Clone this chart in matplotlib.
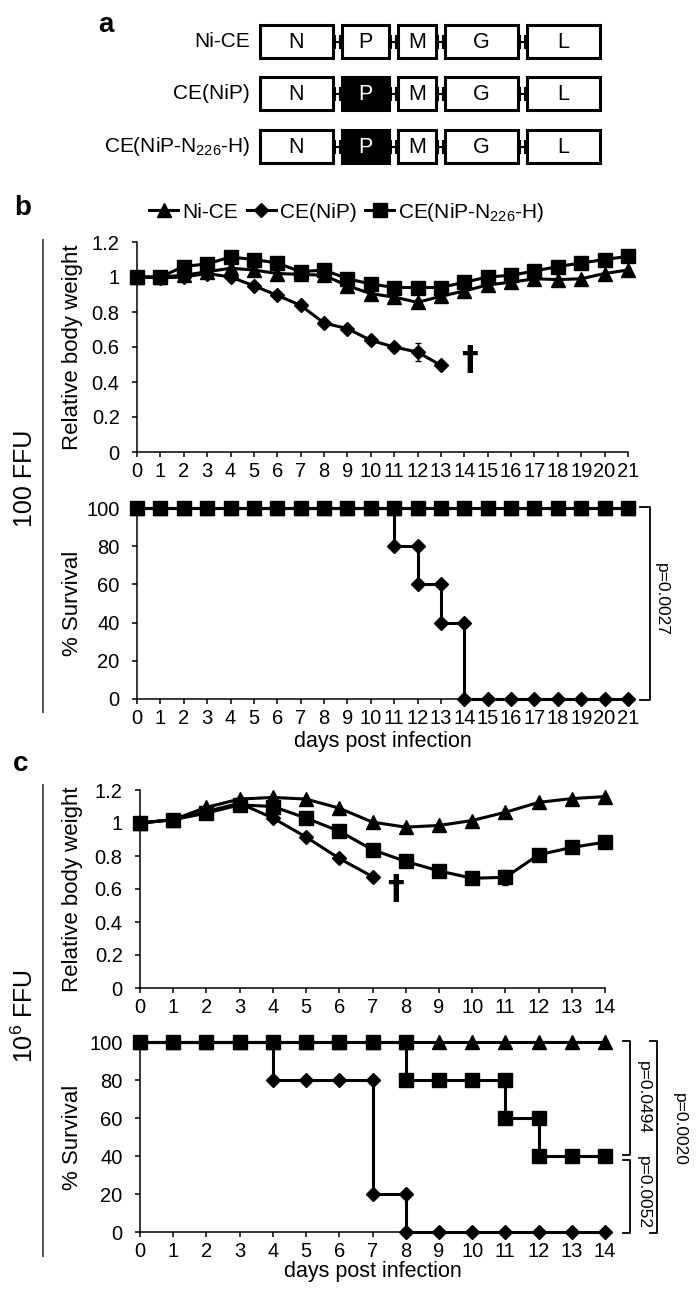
import numpy as np
import matplotlib
matplotlib.use("Agg")
import matplotlib.pyplot as plt
from matplotlib.lines import Line2D
from matplotlib.patches import Rectangle

plt.rcParams['font.family'] = ['Liberation Sans', 'DejaVu Sans']
plt.rcParams['mathtext.default'] = 'regular'

# ---- data ----
series_names = ['Ni-CE', 'CE(NiP)', 'CE(NiP-N$_{226}$-H)']
genes = ['N', 'P', 'M', 'G', 'L']
constructs = ['Ni-CE', 'CE(NiP)', 'CE(NiP-N$_{226}$-H)']

# panel b (100 FFU): relative body weight, days 0-21
b_days = list(range(22))
b_w_nice = [1.0, 1.0, 1.01, 1.03, 1.05, 1.04, 1.02, 1.015, 1.01, 0.95, 0.905, 0.885,
            0.855, 0.89, 0.92, 0.955, 0.97, 0.99, 0.985, 0.99, 1.02, 1.04]
b_e_nice = [0.0, 0.01, 0.01, 0.01, 0.01, 0.01, 0.01, 0.01, 0.01, 0.02, 0.02, 0.02,
            0.02, 0.02, 0.01, 0.01, 0.01, 0.01, 0.01, 0.01, 0.01, 0.01]
b_days_nip = list(range(14))
b_w_nip = [1.0, 0.995, 1.0, 1.02, 1.0, 0.95, 0.895, 0.838, 0.737, 0.705, 0.638, 0.60,
           0.571, 0.495]
b_e_nip = [0.0, 0.01, 0.01, 0.01, 0.01, 0.01, 0.01, 0.02, 0.015, 0.02, 0.015, 0.02,
           0.05, 0.01]
b_w_h = [1.0, 1.0, 1.06, 1.075, 1.114, 1.10, 1.08, 1.03, 1.04, 0.99, 0.96, 0.94,
         0.94, 0.94, 0.97, 1.0, 1.01, 1.034, 1.06, 1.08, 1.10, 1.118]
b_e_h = [0.0, 0.01, 0.01, 0.01, 0.01, 0.01, 0.01, 0.01, 0.01, 0.01, 0.01, 0.01,
         0.01, 0.01, 0.01, 0.01, 0.01, 0.01, 0.01, 0.01, 0.01, 0.01]

# panel b survival (step points)
b_s_nice_x = [0, 1, 2, 3, 4, 5, 6, 7, 8, 9, 10, 11, 12, 13, 14, 15, 16, 17, 18, 19, 20, 21]
b_s_nice_y = [100, 100, 100, 100, 100, 100, 100, 100, 100, 100, 100, 100, 100, 100,
              100, 100, 100, 100, 100, 100, 100, 100]
b_s_nip_x = [0, 1, 2, 3, 4, 5, 6, 7, 8, 9, 10, 11, 11, 12, 12, 13, 13, 14, 14, 15, 16,
             17, 18, 19, 20, 21]
b_s_nip_y = [100, 100, 100, 100, 100, 100, 100, 100, 100, 100, 100, 100, 80, 80, 60, 60,
             40, 40, 0, 0, 0, 0, 0, 0, 0, 0]
b_s_h_x = b_s_nice_x
b_s_h_y = [100, 100, 100, 100, 100, 100, 100, 100, 100, 100, 100, 100, 100, 100,
           100, 100, 100, 100, 100, 100, 100, 100]
b_p = 'p=0.0027'

# panel c (10^6 FFU): relative body weight, days 0-14
c_days = list(range(15))
c_w_nice = [1.0, 1.02, 1.095, 1.145, 1.155, 1.145, 1.09, 1.005, 0.975, 0.985, 1.015,
            1.065, 1.125, 1.148, 1.16]
c_e_nice = [0.0, 0.01, 0.01, 0.01, 0.01, 0.01, 0.01, 0.01, 0.01, 0.01, 0.01, 0.01,
            0.01, 0.01, 0.01]
c_days_nip = list(range(8))
c_w_nip = [1.0, 1.02, 1.07, 1.12, 1.03, 0.915, 0.785, 0.675]
c_e_nip = [0.0, 0.01, 0.01, 0.01, 0.01, 0.01, 0.01, 0.01]
c_w_h = [1.0, 1.02, 1.06, 1.11, 1.10, 1.03, 0.95, 0.838, 0.767, 0.71, 0.665, 0.671,
         0.807, 0.852, 0.884]
c_e_h = [0.0, 0.01, 0.01, 0.01, 0.01, 0.01, 0.01, 0.01, 0.01, 0.01, 0.01, 0.045,
         0.01, 0.01, 0.01]

c_s_nice_x = [0, 1, 2, 3, 4, 5, 6, 7, 8, 9, 10, 11, 12, 13, 14]
c_s_nice_y = [100, 100, 100, 100, 100, 100, 100, 100, 100, 100, 100, 100, 100, 100, 100]
c_s_nip_x = [0, 1, 2, 3, 4, 4, 5, 6, 7, 7, 8, 8, 9, 10, 11, 12, 13, 14]
c_s_nip_y = [100, 100, 100, 100, 100, 80, 80, 80, 80, 20, 20, 0, 0, 0, 0, 0, 0, 0]
c_s_h_x = [0, 1, 2, 3, 4, 5, 6, 7, 8, 8, 9, 10, 11, 11, 12, 12, 13, 14]
c_s_h_y = [100, 100, 100, 100, 100, 100, 100, 100, 100, 80, 80, 80, 80, 60, 60, 40, 40, 40]
c_p = ['p=0.0494', 'p=0.0052', 'p=0.0020']

# ---- style ----
LW = 2.2
styles = {
    'nice': dict(marker='^', ms=9.5),
    'nip': dict(marker='D', ms=7),
    'h': dict(marker='s', ms=9.5),
}
TICK_FS = 14.5
LAB_FS = 15.5

fig = plt.figure(figsize=(7, 12.99), dpi=100)


def style_axes(ax, xmax, ymax, yticks, ylabel, xlabel=None, ylab_x=-0.11):
    ax.set_xlim(0, xmax)
    ax.set_ylim(0, ymax)
    ax.set_xticks(range(xmax + 1))
    ax.set_yticks(yticks)
    ax.set_yticklabels(['{:g}'.format(t) for t in yticks])
    for s in ['top', 'right']:
        ax.spines[s].set_visible(False)
    for s in ['left', 'bottom']:
        ax.spines[s].set_linewidth(1.1)
    ax.tick_params(axis='both', direction='out', length=3.5, width=1.1,
                   labelsize=TICK_FS)
    ax.tick_params(axis='y', pad=9)
    ax.tick_params(axis='x', pad=4)
    ax.set_ylabel(ylabel, fontsize=16)
    ax.yaxis.set_label_coords(ylab_x, 0.5)
    if xlabel:
        ax.set_xlabel(xlabel, fontsize=LAB_FS)
    ax.patch.set_alpha(0)


def weight_line(ax, x, y, e, key):
    ax.errorbar(x, y, yerr=e, color='black', lw=LW, elinewidth=1, capsize=2.5,
                capthick=1, mfc='black', mec='black', clip_on=False, zorder=3,
                **styles[key])


def surv_line(ax, x, y, key):
    ax.plot(x, y, color='black', lw=LW, mfc='black', mec='black', clip_on=False,
            zorder=3, **styles[key])


def bracket(ax, x, x0, y0, y1):
    ax.plot([x0, x, x, x0], [y0, y0, y1, y1], color='black', lw=1.3, clip_on=False)


# panel b weight
ax1 = fig.add_axes([137 / 700, 1 - 452 / 1299, 491 / 700, 210 / 1299])
weight_line(ax1, b_days, b_w_nice, b_e_nice, 'nice')
weight_line(ax1, b_days_nip, b_w_nip, b_e_nip, 'nip')
weight_line(ax1, b_days, b_w_h, b_e_h, 'h')
style_axes(ax1, 21, 1.2, [0, 0.2, 0.4, 0.6, 0.8, 1.0, 1.2], 'Relative body weight',
           ylab_x=-0.11)
ax1.text(14.2, 0.525, '\u2020', fontsize=24, fontweight='bold', ha='center',
         va='center', family='DejaVu Sans')

# panel b survival
ax2 = fig.add_axes([137 / 700, 1 - 699 / 1299, 491 / 700, 191 / 1299])
surv_line(ax2, b_s_nice_x, b_s_nice_y, 'nice')
surv_line(ax2, b_s_nip_x, b_s_nip_y, 'nip')
surv_line(ax2, b_s_h_x, b_s_h_y, 'h')
style_axes(ax2, 21, 100, [0, 20, 40, 60, 80, 100], '% Survival',
           'days post infection', ylab_x=-0.11)
ax2.xaxis.set_label_coords(0.5, -0.17)
bracket(ax2, 21.94, 21.5, 100.5, -0.5)
ax2.text(22.45, 52, b_p, rotation=270, fontsize=12.5, ha='center', va='center')

# panel c weight
ax3 = fig.add_axes([140 / 700, 1 - 988 / 1299, 465 / 700, 198 / 1299])
weight_line(ax3, c_days, c_w_nice, c_e_nice, 'nice')
weight_line(ax3, c_days_nip, c_w_nip, c_e_nip, 'nip')
weight_line(ax3, c_days, c_w_h, c_e_h, 'h')
style_axes(ax3, 14, 1.2, [0, 0.2, 0.4, 0.6, 0.8, 1.0, 1.2], 'Relative body weight',
           ylab_x=-0.123)
ax3.text(7.68, 0.6, '\u2020', fontsize=24, fontweight='bold', ha='center',
         va='center', family='DejaVu Sans')

# panel c survival
ax4 = fig.add_axes([140 / 700, 1 - 1232 / 1299, 465 / 700, 190 / 1299])
surv_line(ax4, c_s_nice_x, c_s_nice_y, 'nice')
surv_line(ax4, c_s_nip_x, c_s_nip_y, 'nip')
surv_line(ax4, c_s_h_x, c_s_h_y, 'h')
style_axes(ax4, 14, 100, [0, 20, 40, 60, 80, 100], '% Survival',
           'days post infection', ylab_x=-0.123)
ax4.xaxis.set_label_coords(0.5, -0.155)
bracket(ax4, 14.75, 14.55, 100.5, 40.5)
bracket(ax4, 14.75, 14.55, 38, -0.5)
bracket(ax4, 15.57, 15.36, 100.5, -0.5)
ax4.text(15.15, 71, c_p[0], rotation=270, fontsize=12.5, ha='center', va='center')
ax4.text(15.15, 21, c_p[1], rotation=270, fontsize=12.5, ha='center', va='center')
ax4.text(16.23, 54, c_p[2], rotation=270, fontsize=12.5, ha='center', va='center')

# legend
handles = [Line2D([], [], color='black', lw=LW, mfc='black', mec='black', **styles[k])
           for k in ['nice', 'nip', 'h']]
fig.legend(handles, series_names, loc='center', bbox_to_anchor=(347 / 700, 1 - 212 / 1299),
           ncol=3, frameon=False, fontsize=15, handlelength=1.4, handletextpad=0.2,
           columnspacing=0.4, borderpad=0)

# overlay in pixel coordinates: genome diagram, panel letters, dose labels
ov = fig.add_axes([0, 0, 1, 1])
ov.set_xlim(0, 700)
ov.set_ylim(1299, 0)
ov.axis('off')
ov.patch.set_alpha(0)

box_left = [260, 342, 398, 445, 527]
box_right = [333, 389, 436, 518, 600]
row_y = [41.5, 93.5, 146.5]
box_h = 33
for r, (name, yc) in enumerate(zip(constructs, row_y)):
    ov.text(250, yc, name, ha='right', va='center', fontsize=15)
    for i, g in enumerate(genes):
        filled = (g == 'P' and r > 0)
        ov.add_patch(Rectangle((box_left[i], yc - box_h / 2), box_right[i] - box_left[i],
                               box_h, facecolor='black' if filled else 'white',
                               edgecolor='black', lw=2.2))
        ov.text((box_left[i] + box_right[i]) / 2, yc + 1, g, ha='center', va='center',
                fontsize=15.5, color='white' if filled else 'black')
        if i < len(genes) - 1:
            xa, xb = box_right[i], box_left[i + 1]
            ov.plot([xa, xb], [yc, yc], color='black', lw=1.5)
            ov.plot([xa + 2, xa + 2], [yc - 6, yc + 6], color='black', lw=1.5)
            ov.plot([xb - 2, xb - 2], [yc - 6, yc + 6], color='black', lw=1.5)

ov.text(106, 32, 'a', fontsize=20, fontweight='bold', ha='center', va='baseline')
ov.text(23, 215, 'b', fontsize=20, fontweight='bold', ha='center', va='baseline')
ov.text(21, 771, 'c', fontsize=20, fontweight='bold', ha='center', va='baseline')

ov.plot([43, 43], [240, 712], color='#444444', lw=1.3)
ov.plot([43, 43], [785, 1256], color='#444444', lw=1.3)
ov.text(25, 478, '100 FFU', rotation=90, fontsize=18, ha='center', va='center')
ov.text(25, 1016, '10$^6$ FFU', rotation=90, fontsize=18, ha='center', va='center')

fig.savefig('out.png', dpi=100)
